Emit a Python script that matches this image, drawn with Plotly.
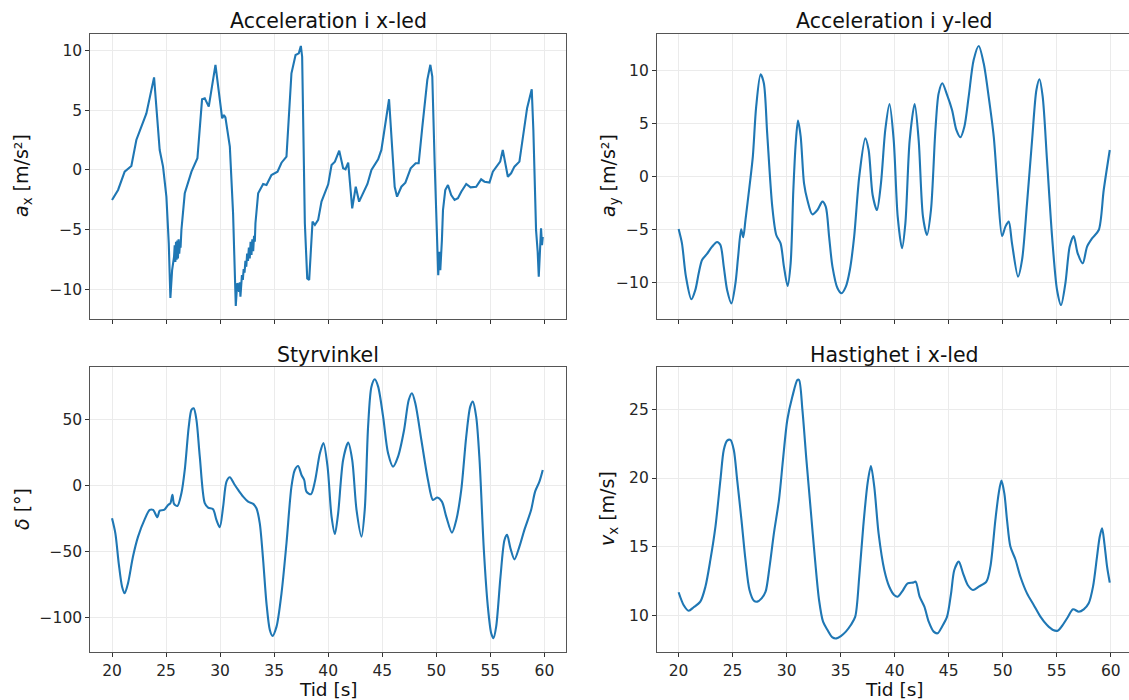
import plotly.graph_objects as go

# ---------------- data ----------------
t_ax = [20.0, 20.56, 21.17, 21.79, 22.25, 22.72, 23.18, 23.89, 24.41, 24.72, 25.03, 25.25, 25.40, 25.56,
        25.74, 25.80, 25.86, 25.92, 25.98, 26.04, 26.10, 26.16, 26.22, 26.28, 26.34, 26.42, 26.73, 27.35,
        27.90, 28.33, 28.58, 28.95, 29.57, 30.19, 30.35, 30.49, 30.90, 31.20, 31.30, 31.45, 31.58, 31.67,
        31.75, 31.82, 31.88, 31.95, 32.02, 32.10, 32.18, 32.26, 32.34, 32.42, 32.50, 32.58, 32.66, 32.74,
        32.82, 32.90, 32.98, 33.06, 33.14, 33.21, 33.27, 33.52, 33.98, 34.29, 34.75, 35.31, 35.68, 36.14,
        36.60, 36.98, 37.28, 37.47, 37.59, 37.84, 38.06, 38.24, 38.40, 38.55, 38.77, 39.07, 39.38, 40.0,
        40.31, 40.62, 41.02, 41.38, 41.60, 41.85, 42.22, 42.55, 42.86, 43.23, 43.63, 44.0, 44.62, 44.92,
        45.29, 45.63, 45.91, 46.15, 46.37, 46.77, 47.14, 47.63, 48.09, 48.37, 48.71, 49.17, 49.45, 49.63,
        49.85, 50.06, 50.18, 50.28, 50.37, 50.52, 50.62, 50.83, 51.08, 51.38, 51.69, 52.0, 52.31, 52.77,
        53.17, 53.69, 54.15, 54.46, 54.92, 55.23, 55.54, 55.91, 56.15, 56.37, 56.62, 56.92, 57.23, 57.69,
        58.0, 58.40, 58.83, 58.98, 59.23, 59.38, 59.48, 59.57, 59.69, 59.78, 59.85]
ax_vals = [-2.51, -1.67, -0.14, 0.33, 2.51, 3.63, 4.74, 7.75, 1.67, 0.28, -2.23, -6.14, -10.7, -8.37,
           -7.25, -6.3, -7.7, -6.0, -7.5, -5.9, -7.4, -5.8, -7.0, -6.2, -6.5, -5.02, -1.95, -0.14,
           0.98, 5.91, 6.0, 5.3, 8.79, 4.32, 4.6, 4.4, 1.95, -3.63, -7.81, -11.38, -9.48, -9.6,
           -10.2, -9.4, -10.6, -9.6, -8.8, -9.2, -8.3, -8.6, -7.6, -8.1, -7.0, -7.6, -6.5, -7.4,
           -6.0, -7.1, -5.8, -6.8, -5.5, -6.0, -4.46, -1.95, -1.17, -1.26, -0.42, -0.14, 0.61, 1.12,
           8.09, 9.62, 9.76, 10.38, 9.48, -4.46, -9.07, -9.2, -6.7, -4.32, -4.6, -4.18, -2.65, -1.2,
           0.42, 0.7, 1.62, 0.14, 0.06, 0.61, -3.21, -1.4, -2.65, -1.96, -1.17, 0.0, 0.89, 1.68,
           3.91, 5.92, 1.96, -1.4, -2.23, -1.4, -1.06, 0.14, 0.56, 0.56, 3.63, 7.54, 8.8, 7.82,
           0.56, -6.42, -8.8, -6.84, -8.38, -5.87, -3.35, -1.68, -1.26, -2.1, -2.51, -2.37, -1.82, -1.17,
           -1.45, -1.4, -0.78, -0.98, -1.06, -0.14, 0.28, 0.7, 1.68, 0.56, -0.56, -0.28, 0.28, 0.7,
           2.51, 5.17, 6.76, 3.35, -5.03, -6.84, -8.94, -6.42, -4.89, -6.28, -5.6]

t_ay = [20.0, 20.31, 20.68, 21.18, 21.55, 21.86, 22.17, 22.63, 23.10, 23.56, 23.87, 24.18, 24.49, 24.89,
        25.26, 25.51, 25.79, 25.98, 26.19, 26.56, 26.87, 27.18, 27.59, 27.89, 28.20, 28.67, 29.04, 29.44,
        29.75, 30.09, 30.37, 30.62, 30.84, 31.05, 31.30, 31.61, 31.92, 32.38, 32.85, 33.31, 33.62, 33.93,
        34.24, 34.71, 35.08, 35.48, 35.85, 36.25, 36.72, 37.28, 37.59, 37.96, 38.36, 38.73, 39.13, 39.52,
        39.91, 40.28, 40.68, 40.99, 41.39, 41.85, 42.22, 42.62, 42.99, 43.36, 43.77, 44.07, 44.41, 44.85,
        45.31, 45.71, 46.08, 46.45, 46.85, 47.31, 47.78, 48.24, 48.70, 49.17, 49.54, 49.94, 50.25, 50.56,
        50.86, 51.42, 51.79, 52.25, 52.72, 53.12, 53.40, 53.70, 54.10, 54.57, 55.03, 55.40, 55.80, 56.20,
        56.57, 56.94, 57.41, 57.81, 58.27, 58.89, 59.35, 59.91]
ay_vals = [-4.94, -6.3, -9.45, -11.59, -10.7, -9.13, -7.87, -7.3, -6.61, -6.17, -6.46, -8.5, -10.7, -11.97,
           -10.08, -7.56, -4.98, -5.73, -4.09, -0.94, 1.89, 6.61, 9.67, 8.82, 4.09, -2.83, -5.51, -6.3,
           -8.5, -10.33, -8.19, -1.26, 3.15, 5.29, 3.78, -0.63, -2.2, -3.56, -3.15, -2.36, -2.83, -5.67,
           -8.5, -10.55, -11.02, -10.39, -8.82, -5.67, 0.0, 3.62, 2.52, -1.73, -3.15, -0.63, 4.41, 6.85,
           3.46, -3.78, -6.77, -4.41, 3.46, 6.87, 3.46, -3.78, -5.51, -3.15, 4.41, 7.87, 8.82, 7.72,
           6.3, 4.41, 3.72, 4.72, 7.56, 11.02, 12.35, 10.71, 7.56, 3.78, -1.26, -5.61, -4.72, -4.25,
           -6.3, -9.45, -7.87, -2.52, 3.46, 8.19, 9.2, 7.56, 1.57, -5.67, -10.71, -12.13, -10.08, -6.61,
           -5.61, -7.24, -8.19, -6.61, -5.83, -5.04, -1.26, 2.52]

t_delta = [20.0, 20.31, 20.62, 20.93, 21.17, 21.48, 21.94, 22.41, 23.02, 23.49, 23.80, 24.20, 24.41, 24.81,
           25.19, 25.40, 25.59, 25.74, 26.05, 26.42, 26.73, 27.10, 27.35, 27.56, 27.81, 28.12, 28.58, 28.89,
           29.35, 29.66, 29.97, 30.28, 30.59, 30.90, 31.30, 31.67, 32.13, 32.59, 33.06, 33.36, 33.67, 33.98,
           34.29, 34.60, 34.85, 35.22, 35.68, 36.14, 36.60, 36.91, 37.22, 37.53, 37.78, 37.99, 38.40, 38.77,
           39.23, 39.56, 39.94, 40.31, 40.62, 40.92, 41.38, 41.85, 42.22, 42.62, 43.08, 43.38, 43.69, 44.0,
           44.31, 44.62, 45.08, 45.54, 46.0, 46.46, 47.02, 47.45, 47.75, 48.06, 48.62, 49.23, 49.69, 50.09,
           50.52, 50.92, 51.45, 51.85, 52.31, 52.77, 53.14, 53.38, 53.69, 54.0, 54.40, 54.77, 55.08, 55.29,
           55.54, 55.94, 56.31, 56.55, 56.86, 57.23, 57.69, 58.15, 58.77, 59.14, 59.54, 59.85]
delta_vals = [-25.0, -36.4, -59.1, -76.8, -81.8, -74.2, -54.0, -38.9, -25.8, -18.7, -18.7, -24.2, -19.2, -18.7,
              -14.9, -13.6, -7.3, -14.1, -15.7, -6.1, 11.6, 44.4, 57.1, 58.3, 49.5, 21.7, -13.6, -16.9,
              -18.2, -26.3, -31.8, -16.2, 2.8, 6.1, 1.0, -3.5, -8.6, -12.4, -14.1, -17.4, -28.8, -56.6,
              -89.4, -109.6, -114.1, -107.1, -81.8, -43.9, -1.0, 11.6, 14.6, 7.8, 4.0, -4.8, -6.8, 2.8,
              24.2, 32.0, 14.1, -23.7, -36.9, -21.2, 19.2, 32.3, 19.2, -18.7, -38.9, -18.7, 44.4, 74.7,
              80.3, 74.7, 52.0, 24.2, 14.1, 21.7, 41.9, 64.6, 69.7, 62.1, 34.3, 4.0, -11.1, -9.3,
              -12.4, -23.7, -35.9, -26.3, -3.5, 36.9, 59.6, 63.4, 52.0, 19.2, -49.0, -91.9, -112.1, -115.9,
              -107.1, -69.2, -41.4, -37.6, -47.7, -56.1, -46.5, -33.8, -18.7, -4.8, 2.8, 11.6]

t_vx = [20.0, 20.46, 20.93, 21.39, 22.01, 22.48, 22.94, 23.41, 23.87, 24.18, 24.49, 24.80, 25.11, 25.42,
        25.82, 26.19, 26.56, 26.97, 27.28, 27.68, 28.05, 28.42, 28.82, 29.29, 29.66, 30.06, 30.53, 31.0,
        31.15, 31.46, 31.83, 32.23, 32.63, 33.0, 33.37, 33.78, 34.24, 34.61, 35.02, 35.48, 35.94, 36.35,
        36.72, 37.09, 37.49, 37.80, 38.11, 38.51, 39.04, 39.50, 39.95, 40.28, 40.68, 41.20, 41.70, 41.94,
        42.31, 42.75, 43.15, 43.61, 43.98, 44.38, 44.85, 45.22, 45.52, 45.93, 46.33, 46.76, 47.25, 47.78,
        48.49, 48.86, 49.32, 49.63, 49.88, 50.15, 50.40, 50.71, 51.17, 51.64, 52.25, 52.87, 53.49, 54.10,
        54.66, 55.09, 55.49, 55.96, 56.51, 57.04, 57.50, 57.96, 58.36, 58.73, 58.98, 59.20, 59.41, 59.66,
        59.91]
vx_vals = [11.7, 10.78, 10.36, 10.61, 11.02, 12.1, 14.05, 16.47, 19.86, 22.04, 22.72, 22.77, 22.04, 19.86,
           16.95, 14.05, 11.87, 11.09, 11.02, 11.26, 11.74, 13.56, 15.98, 18.41, 21.32, 24.22, 25.92, 27.13,
           27.13, 24.95, 21.32, 17.68, 14.05, 11.14, 9.56, 8.96, 8.42, 8.35, 8.52, 8.84, 9.32, 9.93,
           12.83, 16.47, 19.62, 20.88, 19.38, 15.98, 13.32, 12.1, 11.5, 11.38, 11.74, 12.35, 12.4, 12.47,
           11.38, 10.65, 9.56, 8.84, 8.72, 9.2, 9.93, 11.62, 13.32, 13.93, 13.08, 12.23, 11.87, 12.11,
           12.47, 13.56, 16.95, 18.89, 19.81, 18.89, 16.95, 15.02, 14.1, 12.83, 11.62, 10.78, 9.93, 9.32,
           8.96, 8.91, 9.25, 9.81, 10.46, 10.29, 10.46, 10.9, 12.11, 14.29, 15.74, 16.35, 15.26, 13.56,
           12.4]

titles = ["Acceleration i x-led", "Acceleration i y-led", "Styrvinkel", "Hastighet i x-led"]
ylabels = ["<i>a</i><sub>x</sub> [m/s²]", "<i>a</i><sub>y</sub> [m/s²]", "<i>δ</i> [°]", "<i>v</i><sub>x</sub> [m/s]"]
xlabel = "Tid [s]"

# ---------------- layout geometry ----------------
W, H = 1129, 700
FONT = "DejaVu Sans"
BLUE = "#1f77b4"

def fx(px):
    return px / W

def fy(py):
    return 1 - py / H

xdom_left = [fx(90.4), fx(566)]
xdom_right = [fx(657), 1.0]
ydom_top = [fy(319), fy(34)]
ydom_bot = [fy(652), fy(367)]

fig = go.Figure()

series = [
    (t_ax, ax_vals, "x", "y", "linear"),
    (t_ay, ay_vals, "x2", "y2", "spline"),
    (t_delta, delta_vals, "x3", "y3", "spline"),
    (t_vx, vx_vals, "x4", "y4", "spline"),
]
for tt, vv, xa, ya, shape in series:
    line = dict(color=BLUE, width=2.1, shape=shape)
    if shape == "spline":
        line["smoothing"] = 0.8
    fig.add_trace(go.Scatter(x=tt, y=vv, mode="lines", line=line, xaxis=xa, yaxis=ya,
                             showlegend=False, hoverinfo="skip"))

axis_common = dict(
    showgrid=True, gridcolor="#ebebeb", gridwidth=1,
    showline=True, linecolor="#555555", linewidth=1.2, mirror=True,
    ticks="outside", ticklen=4, tickwidth=1, tickcolor="#333333",
    tickfont=dict(family=FONT, size=15.5, color="#262626"),
    zeroline=False,
)

xr_left = [18, 62]
xr_right = [18, 61.69]
xticks = [20, 25, 30, 35, 40, 45, 50, 55, 60]

fig.update_layout(
    width=W, height=H,
    margin=dict(l=0, r=0, t=0, b=0),
    paper_bgcolor="white", plot_bgcolor="white",
    font=dict(family=FONT, color="#1a1a1a"),
    xaxis=dict(domain=xdom_left, anchor="y", range=xr_left, tickvals=xticks, showticklabels=False, **axis_common),
    yaxis=dict(domain=ydom_top, anchor="x", range=[-12.47, 11.38], dtick=5, tick0=0, **axis_common),
    xaxis2=dict(domain=xdom_right, anchor="y2", range=xr_right, tickvals=xticks, showticklabels=False, **axis_common),
    yaxis2=dict(domain=ydom_top, anchor="x2", range=[-13.45, 13.48], dtick=5, tick0=0, **axis_common),
    xaxis3=dict(domain=xdom_left, anchor="y3", range=xr_left, tickvals=xticks, **axis_common),
    yaxis3=dict(domain=ydom_bot, anchor="x3", range=[-126.3, 89.6], dtick=50, tick0=0, **axis_common),
    xaxis4=dict(domain=xdom_right, anchor="y4", range=xr_right, tickvals=xticks, **axis_common),
    yaxis4=dict(domain=ydom_bot, anchor="x4", range=[7.36, 28.07], dtick=5, tick0=0, **axis_common),
)

ann = []
# subplot titles
title_pos = [(328, 21), (894, 21), (328, 355), (894, 355)]
for txt, (px, py) in zip(titles, title_pos):
    ann.append(dict(text=txt, x=fx(px), y=fy(py), xref="paper", yref="paper", showarrow=False,
                    xanchor="center", yanchor="middle", font=dict(family=FONT, size=20.5, color="#111111")))
# y-axis labels
ylab_pos = [(22, 176), (609, 176), (22, 509), (609, 509)]
for txt, (px, py) in zip(ylabels, ylab_pos):
    ann.append(dict(text=txt, x=fx(px), y=fy(py), xref="paper", yref="paper", showarrow=False,
                    xanchor="center", yanchor="middle", textangle=-90,
                    font=dict(family=FONT, size=19, color="#111111")))
# x-axis labels
for px in (328, 894):
    ann.append(dict(text=xlabel, x=fx(px), y=fy(689.5), xref="paper", yref="paper", showarrow=False,
                    xanchor="center", yanchor="middle", font=dict(family=FONT, size=18.5, color="#111111")))
fig.update_layout(annotations=ann)

fig.write_html("out.html")
